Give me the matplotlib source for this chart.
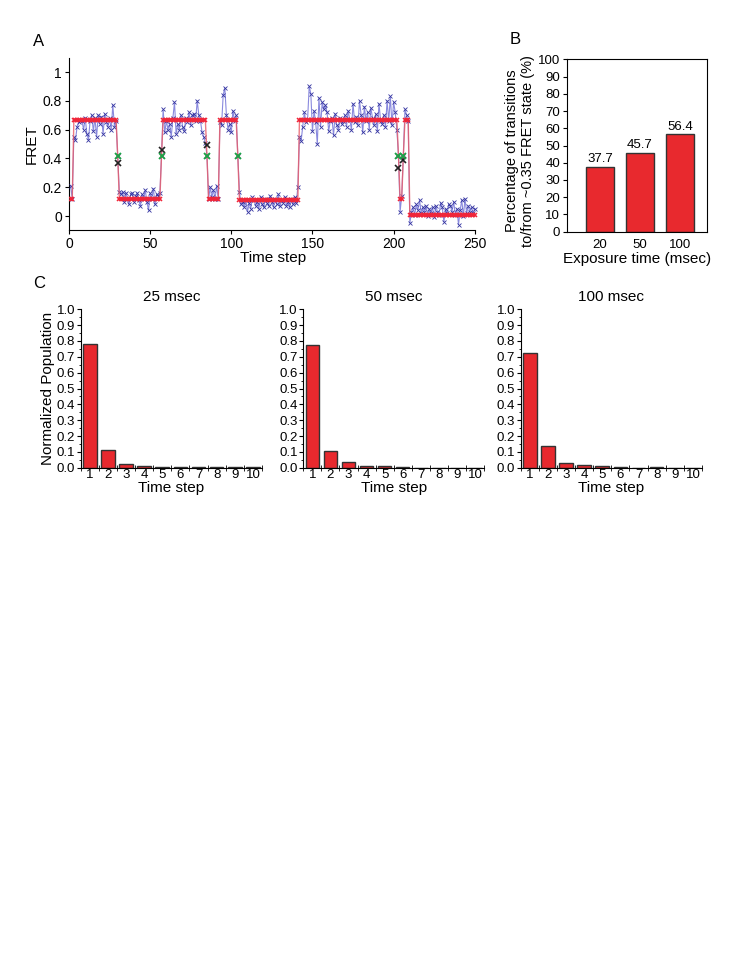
import numpy as np
import matplotlib
matplotlib.use('Agg')
import matplotlib.pyplot as plt
from matplotlib.ticker import MultipleLocator

plt.rcParams['font.family'] = ['Liberation Sans', 'DejaVu Sans']

# ---- panel A: FRET trace (time steps 1..250) ----
fret = [
    0.21, 0.12,
    0.55, 0.53, 0.62, 0.65, 0.67, 0.66, 0.60, 0.68, 0.57, 0.53,
    0.66, 0.70, 0.59, 0.68, 0.55, 0.70, 0.64, 0.69, 0.57, 0.71,
    0.65, 0.62, 0.68, 0.60, 0.77, 0.62, 0.66,
    0.42,
    0.17, 0.15, 0.17, 0.10, 0.16, 0.12, 0.08, 0.15, 0.16, 0.10,
    0.14, 0.16, 0.11, 0.07, 0.15, 0.12, 0.18, 0.10, 0.04, 0.16,
    0.12, 0.19, 0.08, 0.15, 0.14, 0.16,
    0.42,
    0.74, 0.58, 0.66, 0.60, 0.64, 0.55, 0.68, 0.79, 0.57, 0.64,
    0.60, 0.70, 0.62, 0.59, 0.68, 0.65, 0.72, 0.63, 0.70, 0.71,
    0.66, 0.80, 0.70, 0.66, 0.58, 0.55, 0.51,
    0.42,
    0.12, 0.20, 0.13, 0.18, 0.12, 0.21, 0.12,
    0.65, 0.63, 0.84, 0.89, 0.70, 0.60, 0.64, 0.58, 0.73, 0.66, 0.70,
    0.42,
    0.17, 0.08, 0.10, 0.06, 0.11, 0.03, 0.09, 0.05, 0.13, 0.11,
    0.07, 0.10, 0.05, 0.13, 0.08, 0.06, 0.12, 0.09, 0.07, 0.14,
    0.10, 0.06, 0.12, 0.08, 0.15, 0.07, 0.11, 0.09, 0.13, 0.07,
    0.10, 0.06, 0.12, 0.08, 0.13, 0.09, 0.20,
    0.55, 0.52, 0.62, 0.72, 0.65, 0.67, 0.90, 0.85, 0.59, 0.73,
    0.65, 0.50, 0.82, 0.62, 0.79, 0.74, 0.77, 0.72, 0.59, 0.66,
    0.68, 0.56, 0.71, 0.63, 0.60, 0.68, 0.64, 0.66, 0.70, 0.62,
    0.73, 0.67, 0.60, 0.78, 0.65, 0.69, 0.63, 0.80, 0.70, 0.58,
    0.76, 0.66, 0.72, 0.60, 0.75, 0.68, 0.63, 0.71, 0.59, 0.78,
    0.66, 0.64, 0.70, 0.62, 0.80, 0.66, 0.83, 0.63, 0.79, 0.72,
    0.60,
    0.42,
    0.03, 0.14,
    0.42,
    0.74, 0.70, 0.66,
    -0.05, 0.03, 0.06, 0.01, 0.08, 0.04, 0.11, 0.02, 0.06, 0.03,
    0.07, 0.00, 0.05, 0.02, 0.06, -0.01, 0.07, 0.03, 0.01, 0.09,
    0.06, -0.04, 0.05, 0.02, 0.08, 0.07, 0.03, 0.10, 0.01, 0.05,
    -0.06, 0.04, 0.11, 0.00, 0.12, 0.02, 0.07, 0.03, 0.06, 0.02,
    0.05,
]

# idealized fit: dwell levels and their lengths (time steps)
fit_levels = [0.12, 0.67, 0.42, 0.12, 0.42, 0.67, 0.42, 0.12, 0.67, 0.42,
              0.11, 0.67, 0.42, 0.12, 0.42, 0.67, 0.01]
fit_lengths = [2, 27, 1, 26, 1, 27, 1, 7, 11, 1, 37, 61, 1, 2, 1, 3, 41]

green_t = [30, 57, 85, 104, 203, 206]
green_y = [0.42, 0.42, 0.42, 0.42, 0.42, 0.42]
black_t = [30, 57, 85, 203, 206]
black_y = [0.37, 0.46, 0.49, 0.33, 0.39]

# ---- panel B ----
exposure = ['20', '50', '100']
pct_trans = [37.7, 45.7, 56.4]

# ---- panel C ----
steps = [1, 2, 3, 4, 5, 6, 7, 8, 9, 10]
pop_25 = [0.78, 0.112, 0.021, 0.010, 0.006, 0.004, 0.002, 0.002, 0.002, 0.005]
pop_50 = [0.775, 0.107, 0.036, 0.010, 0.012, 0.006, 0.001, 0.001, 0.001, 0.001]
pop_100 = [0.725, 0.137, 0.032, 0.019, 0.010, 0.006, 0.001, 0.002, 0.001, 0.001]
c_titles = ['25 msec', '50 msec', '100 msec']

RED = '#e8292e'
EDGE = '#333333'
W, H = 747, 967


def px_axes(fig, x0, y0, x1, y1):
    # axes from pixel box (top-left origin)
    return fig.add_axes([x0 / W, 1 - y1 / H, (x1 - x0) / W, (y1 - y0) / H])


fig = plt.figure(figsize=(W / 100, H / 100), dpi=100)

# ================= A =================
axA = px_axes(fig, 69, 57.6, 478, 230.4)
t = np.arange(1, len(fret) + 1)
fit = np.repeat(fit_levels, fit_lengths)
axA.plot(t, fret, color='#8a8ade', lw=0.8, zorder=2)
axA.plot(t, fret, ls='none', marker='x', ms=2.5, mew=0.6, color='#3434a0', zorder=3)
axA.plot(t, fit, color='#ea5a66', lw=1.0, alpha=0.8, zorder=4)
axA.plot(t, fit, ls='none', marker='x', ms=2.5, mew=1.1, color='#f0263a', zorder=5)
axA.plot(black_t, black_y, ls='none', marker='x', ms=4, mew=1.2, color='#222222', zorder=6)
axA.plot(green_t, green_y, ls='none', marker='x', ms=4, mew=1.3, color='#19a54a', zorder=7)
axA.set_xlim(0, 252)
axA.set_ylim(-0.1, 1.1)
axA.set_xticks([0, 50, 100, 150, 200, 250])
axA.set_yticks([0, 0.2, 0.4, 0.6, 0.8, 1.0])
axA.set_yticklabels(['0', '0.2', '0.4', '0.6', '0.8', '1'])
for s in ['top', 'right']:
    axA.spines[s].set_visible(False)
axA.spines['bottom'].set_bounds(0, 250)
axA.tick_params(labelsize=10, length=3, width=0.8, pad=2)
axA.set_xlabel('Time step', fontsize=11, labelpad=0)
axA.set_ylabel('FRET', fontsize=11, labelpad=3)
fig.text(33 / W, 1 - 41 / H, 'A', fontsize=12, va='center')

# ================= B =================
axB = px_axes(fig, 567, 59.3, 707, 231.7)
xb = np.arange(len(exposure))
axB.bar(xb, pct_trans, width=0.72, color=RED, edgecolor=EDGE, lw=1.0)
for xi, v in zip(xb, pct_trans):
    axB.text(xi, v + 1.0, f'{v:.1f}', ha='center', va='bottom', fontsize=9.5)
axB.set_xlim(-0.83, 2.68)
axB.set_ylim(0, 100)
axB.set_xticks(xb)
axB.set_xticklabels(exposure)
axB.yaxis.set_major_locator(MultipleLocator(10))
axB.tick_params(labelsize=9.5, length=3, width=0.8, pad=2)
axB.tick_params(axis='x', length=0, pad=5)
axB.set_xlabel('Exposure time (msec)', fontsize=11, labelpad=1)
axB.set_ylabel('Percentage of transitions\nto/from ~0.35 FRET state (%)',
               fontsize=10.5, labelpad=2, y=0.47)
fig.text(510 / W, 1 - 40 / H, 'B', fontsize=12, va='center')

# ================= C =================
c_boxes = [(80.7, 262, 88.3, 18.6), (303.3, 484, 312.3, 18.33), (520.7, 702, 529.3, 18.33)]
c_data = [pop_25, pop_50, pop_100]
for i, ((x0, x1, first, step), pops, ttl) in enumerate(zip(c_boxes, c_data, c_titles)):
    ax = px_axes(fig, x0, 309.3, x1, 467.7)
    ax.bar(steps, pops, width=0.75, color=RED, edgecolor=EDGE, lw=1.0)
    ax.set_xlim(1 - (first - x0) / step, 1 + (x1 - first) / step)
    ax.set_ylim(0, 1.0)
    ax.set_xticks(steps)
    ax.set_xticks(np.arange(0.5, 10.6, 1.0), minor=True)
    ax.yaxis.set_major_locator(MultipleLocator(0.1))
    ax.yaxis.set_minor_locator(MultipleLocator(0.05))
    ax.yaxis.set_major_formatter(plt.FormatStrFormatter('%.1f'))
    for s in ['top', 'right']:
        ax.spines[s].set_visible(False)
    ax.tick_params(labelsize=9.5, width=0.8, pad=1)
    ax.tick_params(axis='x', which='major', length=0, pad=1)
    ax.tick_params(axis='x', which='minor', length=4, direction='inout')
    ax.tick_params(axis='y', which='major', length=3)
    ax.tick_params(axis='y', which='minor', length=1.5)
    ax.set_xlabel('Time step', fontsize=11, labelpad=0)
    ax.set_title(ttl, fontsize=11, pad=6)
    if i == 0:
        ax.set_ylabel('Normalized Population', fontsize=11, labelpad=1)
fig.text(33 / W, 1 - 284 / H, 'C', fontsize=12, va='center')

fig.savefig('out.png', dpi=100)
